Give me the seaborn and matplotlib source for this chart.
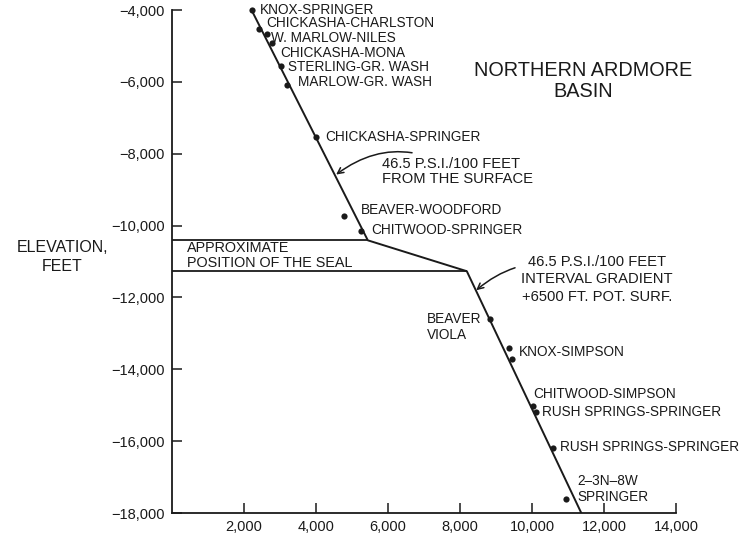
import matplotlib.pyplot as plt
import matplotlib.ticker as mticker
import seaborn as sns

# well pressures (psi) against elevation (feet)
well_names = ["KNOX-SPRINGER", "CHICKASHA-CHARLSTON", "W. MARLOW-NILES", "CHICKASHA-MONA",
              "STERLING-GR. WASH", "MARLOW-GR. WASH", "CHICKASHA-SPRINGER", "BEAVER-WOODFORD",
              "CHITWOOD-SPRINGER", "BEAVER\nVIOLA", "KNOX-SIMPSON", "", "CHITWOOD-SIMPSON",
              "RUSH SPRINGS-SPRINGER", "RUSH SPRINGS-SPRINGER", "2\u20133N\u20138W\nSPRINGER"]
well_pressure = [2210, 2430, 2630, 2790, 3030, 3200, 3990, 4780, 5240,
                 8830, 9360, 9440, 10020, 10100, 10580, 10940]
well_elev = [-4000, -4540, -4680, -4930, -5570, -6080, -7540, -9740, -10140,
             -12590, -13420, -13720, -15020, -15200, -16200, -17610]

# gradient line through the wells, broken at the seal
grad_pressure = [2210, 5440, 8190, 11370]
grad_elev = [-4000, -10410, -11270, -18000]
seal_top = -10410
seal_base = -11270

x_ticks = [2000, 4000, 6000, 8000, 10000, 12000, 14000]
y_ticks = [-4000, -6000, -8000, -10000, -12000, -14000, -16000, -18000]

# label offsets from each dot, in pixels
label_offsets = [(8, 0), (7, 6), (4, -4), (8, -10), (7, -1), (11, 3), (10, 0), (17, 6),
                 (11, 1), (-8, -8), (10, -4), (0, 0), (1, 12), (6, 0), (7, 1), (12, 10)]

sns.set_theme(style="ticks")
plt.rcParams['font.family'] = ['Liberation Sans', 'DejaVu Sans']
ink = "#1a1a1a"

fig, ax = plt.subplots(figsize=(7.5, 5.36), dpi=100)
fig.subplots_adjust(left=0.2293, right=0.9013, bottom=0.0429, top=0.9813)

# seal lines
ax.hlines(seal_top, 0, grad_pressure[1], color=ink, lw=1.3)
ax.hlines(seal_base, 0, grad_pressure[2], color=ink, lw=1.3)

sns.lineplot(x=grad_pressure, y=grad_elev, sort=False, color=ink, lw=1.4, ax=ax)
sns.scatterplot(x=well_pressure, y=well_elev, color=ink, s=20, linewidth=0,
                ax=ax, clip_on=False, zorder=3)

for name, px, el, off in zip(well_names, well_pressure, well_elev, label_offsets):
    if not name:
        continue
    ha = 'right' if off[0] < 0 else 'left'
    ax.annotate(name, (px, el), xytext=off, textcoords='offset pixels',
                ha=ha, va='center', multialignment='left',
                fontsize=9.8, color=ink, linespacing=1.2)

ax.text(410, (seal_top + seal_base) / 2, "APPROXIMATE\nPOSITION OF THE SEAL",
        ha='left', va='center', fontsize=10.4, color=ink, linespacing=1.1)

ax.annotate("46.5 P.S.I./100 FEET\nFROM THE SURFACE", xy=(4560, -8580),
            xytext=(5830, -8490), ha='left', va='center', fontsize=10.6, color=ink,
            linespacing=1.15,
            arrowprops=dict(arrowstyle='->', color=ink, lw=1.1,
                            connectionstyle='arc3,rad=0.35', shrinkA=2, shrinkB=0))

ax.annotate("46.5 P.S.I./100 FEET\nINTERVAL GRADIENT\n+6500 FT. POT. SURF.", xy=(8450, -11800),
            xytext=(11800, -11500), ha='center', va='center', fontsize=10.6, color=ink,
            linespacing=1.3,
            arrowprops=dict(arrowstyle='->', color=ink, lw=1.1,
                            connectionstyle='arc3,rad=0.35', shrinkA=2, shrinkB=0))

ax.text(0.815, 0.859, "NORTHERN ARDMORE\nBASIN", transform=ax.transAxes,
        ha='center', va='center', fontsize=14.3, color=ink, linespacing=1.1)

ax.set_xlim(0, 14000)
ax.set_ylim(-18000, -4000)
ax.set_xticks(x_ticks)
ax.set_yticks(y_ticks)
fmt = mticker.FuncFormatter(lambda v, p: f"{v:,.0f}".replace('-', '\u2212'))
ax.xaxis.set_major_formatter(fmt)
ax.yaxis.set_major_formatter(fmt)
ax.tick_params(direction='in', length=7, width=1.1, labelsize=10.5,
               colors=ink, pad=5)

ax.set_xlabel("")
ax.set_ylabel("ELEVATION,\nFEET", rotation=0, ha='center', va='center',
              fontsize=11.5, color=ink, linespacing=1.4)
ax.yaxis.set_label_coords(-0.218, 0.509)

sns.despine(ax=ax)
for side in ['left', 'bottom']:
    ax.spines[side].set_linewidth(1.3)
    ax.spines[side].set_color(ink)

fig.savefig("out.png", dpi=100)
